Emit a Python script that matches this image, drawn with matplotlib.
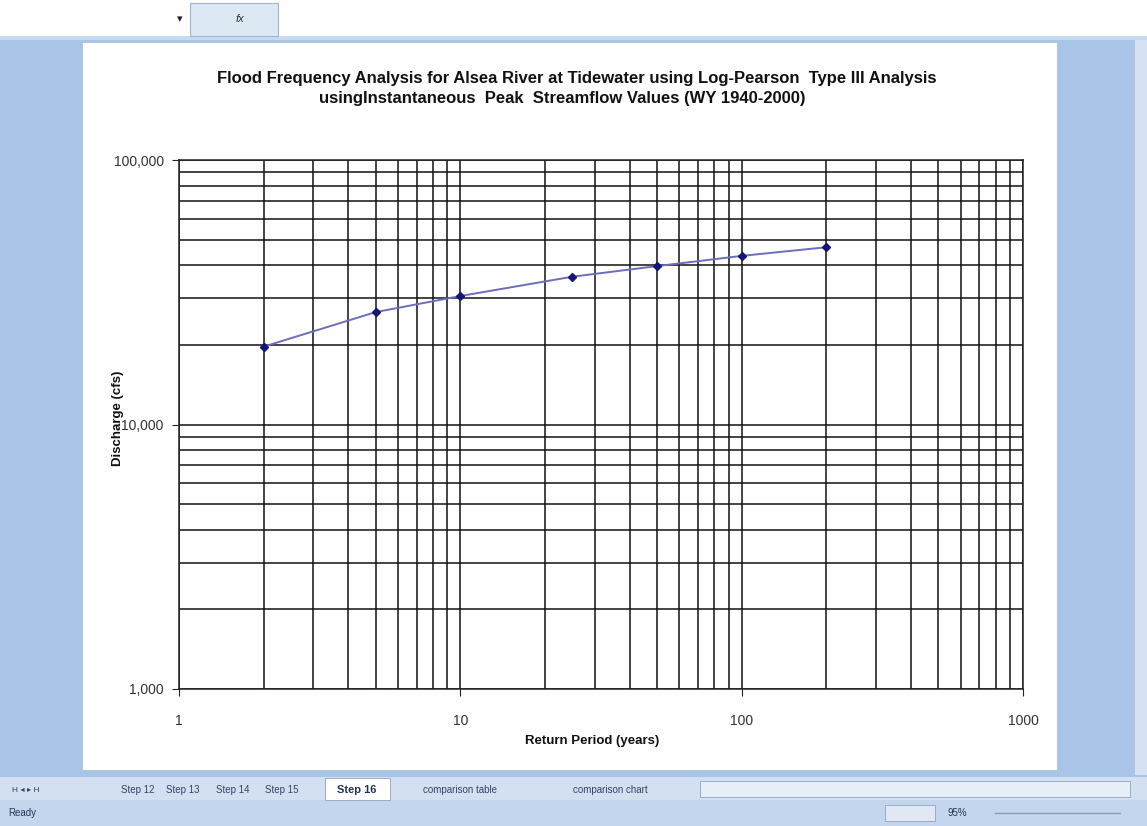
import matplotlib
matplotlib.use("Agg")
import matplotlib.pyplot as plt
from matplotlib.patches import Rectangle
from matplotlib.ticker import FixedLocator, LogLocator, NullFormatter, FixedFormatter

plt.rcParams['font.family'] = ['Liberation Sans', 'DejaVu Sans']

# Data
return_period = [2, 5, 10, 25, 50, 100, 200]
discharge = [19700, 26600, 30600, 36200, 39700, 43400, 46800]
x_ticks = [1, 10, 100, 1000]
x_tick_labels = ["1", "10", "100", "1000"]
y_ticks = [1000, 10000, 100000]
y_tick_labels = ["1,000", "10,000", "100,000"]
sheet_tabs = ["Step 12", "Step 13", "Step 14", "Step 15", "Step 16", "comparison table", "comparison chart"]

W, H = 1147, 826
fig = plt.figure(figsize=(W / 100, H / 100), dpi=100)
fig.patch.set_facecolor("#a8c4e6")

def px_rect(x0, y0, x1, y1, **kw):
    fig.patches.append(Rectangle((x0 / W, 1 - y1 / H), (x1 - x0) / W, (y1 - y0) / H,
                                 transform=fig.transFigure, figure=fig, zorder=-5, **kw))

# Excel chrome
px_rect(0, 0, W, 36, facecolor="white", edgecolor="none")
px_rect(0, 36, W, 40, facecolor="#c9d9ee", edgecolor="none")
px_rect(190, 3, 278, 36, facecolor="#dde8f5", edgecolor="#a0b4cc", lw=0.8)
fig.text(180 / W, 1 - 19 / H, "▾", fontsize=8, ha="center", va="center", color="#222222")
fig.text(240 / W, 1 - 19 / H, "fx", fontsize=8, style="italic", ha="center", va="center", color="#333333")
px_rect(1135, 40, W, 775, facecolor="#d6e2f2", edgecolor="none")
px_rect(82, 42, 1057, 770, facecolor="white", edgecolor="#b8c8dc", lw=0.8)
# tab bar
px_rect(0, 777, W, 800, facecolor="#d3e0f2", edgecolor="none")
px_rect(0, 800, W, 826, facecolor="#c4d6ee", edgecolor="none")
fig.text(12 / W, 1 - 790 / H, "H ◂ ▸ H", fontsize=6, ha="left", va="center", color="#334466")
tx = [138, 183, 233, 282, 357, 460, 610]
for name, xx in zip(sheet_tabs, tx):
    if name == "Step 16":
        continue
    fig.text(xx / W, 1 - 790 / H, name, fontsize=7, ha="center", va="center", color="#334466")
px_rect(325, 778, 390, 800, facecolor="white", edgecolor="#90a4c0", lw=0.6)
fig.text(357 / W, 1 - 790 / H, "Step 16", fontsize=8, fontweight="bold", ha="center", va="center", color="#223355")
px_rect(700, 781, 1130, 797, facecolor="#e8eef8", edgecolor="#90a4c0", lw=0.6)
fig.text(8 / W, 1 - 813 / H, "Ready", fontsize=7, ha="left", va="center", color="#223355")
fig.text(948 / W, 1 - 813 / H, "95%", fontsize=7, ha="left", va="center", color="#223355")
px_rect(885, 805, 935, 821, facecolor="#e0e8f4", edgecolor="#90a4c0", lw=0.6)
fig.lines.append(plt.Line2D([995 / W, 1120 / W], [1 - 813 / H] * 2, transform=fig.transFigure,
                            color="#8899bb", lw=1, zorder=-4))

# Chart
ax = fig.add_axes([179 / W, 1 - 689 / H, (1023 - 179) / W, (689 - 160) / H])
ax.set_zorder(5)
ax.set_facecolor("white")
ax.set_xscale("log")
ax.set_yscale("log")
ax.set_xlim(1, 1000)
ax.set_ylim(1000, 100000)

ax.xaxis.set_major_locator(FixedLocator(x_ticks))
ax.xaxis.set_major_formatter(FixedFormatter(x_tick_labels))
ax.yaxis.set_major_locator(FixedLocator(y_ticks))
ax.yaxis.set_major_formatter(FixedFormatter(y_tick_labels))
ax.xaxis.set_minor_locator(LogLocator(base=10, subs=range(2, 10)))
ax.yaxis.set_minor_locator(LogLocator(base=10, subs=range(2, 10)))
ax.xaxis.set_minor_formatter(NullFormatter())
ax.yaxis.set_minor_formatter(NullFormatter())

ax.grid(True, which="both", color="#111111", linewidth=1.1)
ax.set_axisbelow(True)
for s in ax.spines.values():
    s.set_color("#222222")
    s.set_linewidth(1.1)
ax.tick_params(which="major", length=5, color="#222222", labelsize=10, labelcolor="#333333")
ax.tick_params(which="minor", length=0)
ax.tick_params(axis="x", pad=13)
ax.tick_params(axis="y", pad=6)

ax.plot(return_period, discharge, color="#6d6dbb", linewidth=1.4, marker="D",
        markersize=4.5, markerfacecolor="#14147a", markeredgecolor="#14147a", zorder=5)

ax.set_xlabel("Return Period (years)", fontsize=9.5, fontweight="bold", color="#111111")
ax.set_ylabel("Discharge (cfs)", fontsize=9.5, fontweight="bold", color="#111111")
ax.xaxis.set_label_coords(0.49, (689 - 741) / 529)
ax.yaxis.set_label_coords((118 - 179) / 844, (689 - 418) / 529)
ax.xaxis.label.set_va("center")
ax.yaxis.label.set_va("center")

fig.text(577 / W, 1 - 78 / H, "Flood Frequency Analysis for Alsea River at Tidewater using Log-Pearson  Type III Analysis",
         fontsize=12, fontweight="bold", ha="center", va="center", color="#111111")
fig.text(562 / W, 1 - 98 / H, "usingInstantaneous  Peak  Streamflow Values (WY 1940-2000)",
         fontsize=12, fontweight="bold", ha="center", va="center", color="#111111")

fig.savefig("out.png", dpi=100, facecolor=fig.get_facecolor())
